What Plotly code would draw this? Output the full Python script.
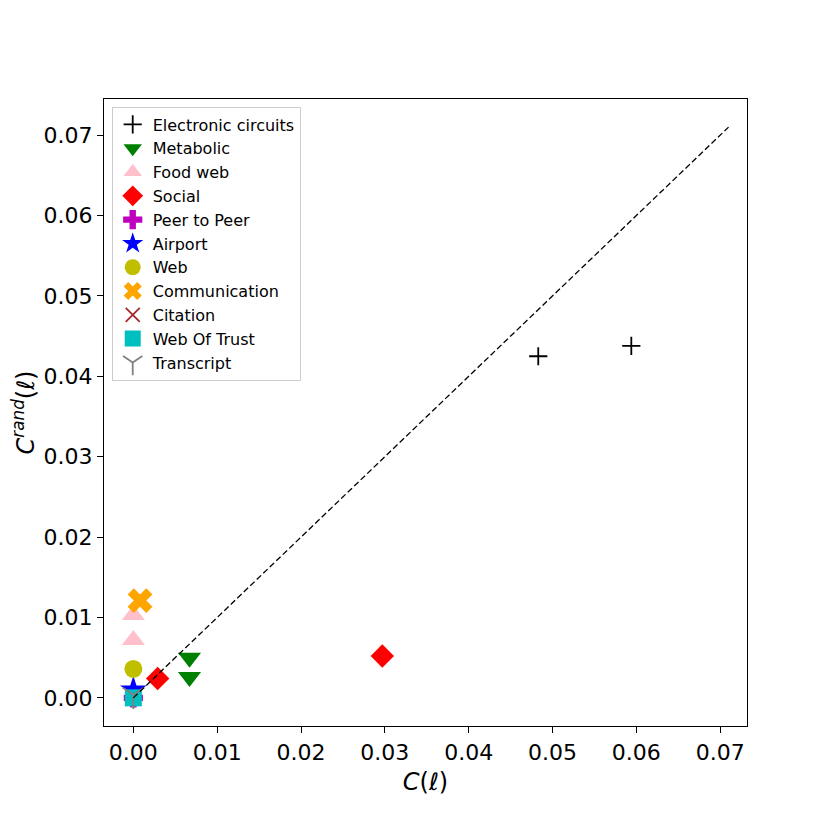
import plotly.graph_objects as go

# values
names = ["Electronic circuits", "Metabolic", "Food web", "Social", "Peer to Peer",
         "Airport", "Web", "Communication", "Citation", "Web Of Trust", "Transcript"]
c_real = [
    [0.0483, 0.0594],
    [0.0067, 0.0067],
    [0.0, 0.0],
    [0.0029, 0.0297],
    [0.0],
    [0.0],
    [0.0],
    [0.0008],
    [0.0],
    [0.0],
    [0.0],
]
c_rand = [
    [0.0425, 0.0438],
    [0.0050, 0.0026],
    [0.0103, 0.0072],
    [0.0024, 0.0052],
    [0.0],
    [0.0010],
    [0.0036],
    [0.0121],
    [0.0],
    [0.0],
    [0.0004],
]
diag = [0.0, 0.071]

symbols = ["cross-thin", "triangle-down", "triangle-up", "diamond", "cross",
           "star", "circle", "x", "x-thin", "square", "y-down"]
colors = ["black", "green", "pink", "red", "#bf00bf",
          "blue", "#bfbf00", "orange", "brown", "#00bfbf", "grey"]
sizes = [13, 20, 20, 18, 16, 20, 18, 22, 14, 17, 18]

fig = go.Figure()

for n, xs, ys, s, c, sz in zip(names, c_real, c_rand, symbols, colors, sizes):
    thin = s.endswith("-thin") or s.startswith("y-")
    fig.add_trace(go.Scatter(
        x=xs, y=ys, mode="markers", name=n,
        marker=dict(symbol=s, size=sz, color=c,
                    line=dict(color=c, width=1.8 if thin else 0)),
    ))

# y = x reference
fig.add_trace(go.Scatter(x=diag, y=diag, mode="lines", showlegend=False,
                         line=dict(color="black", width=1.3, dash="6px,3px")))

axis_style = dict(showline=True, mirror=True, linecolor="black", linewidth=1.3,
                  ticks="outside", ticklen=6, tickcolor="black", showgrid=False,
                  zeroline=False, tickformat=".2f", dtick=0.01,
                  tickfont=dict(size=22, color="black"))

fig.update_xaxes(range=[-0.0035, 0.0732], title_text="<i>C</i>(<i>ℓ</i>)",
                 title_font=dict(size=24, color="black"), title_standoff=9, **axis_style)
fig.update_yaxes(range=[-0.0035, 0.0745],
                 title_text="<i>C</i><sup><i>rand</i></sup>(<i>ℓ</i>)",
                 title_font=dict(size=24, color="black"), title_standoff=6, **axis_style)

fig.update_layout(
    width=830, height=830,
    margin=dict(l=96, r=91, t=91, b=112),
    plot_bgcolor="white", paper_bgcolor="white",
    font=dict(family="DejaVu Sans", color="black"),
    legend=dict(x=0.012, y=0.988, xanchor="left", yanchor="top",
                bgcolor="white", bordercolor="#cccccc", borderwidth=1,
                font=dict(size=16), tracegroupgap=0),
)

fig.write_html("out.html")
